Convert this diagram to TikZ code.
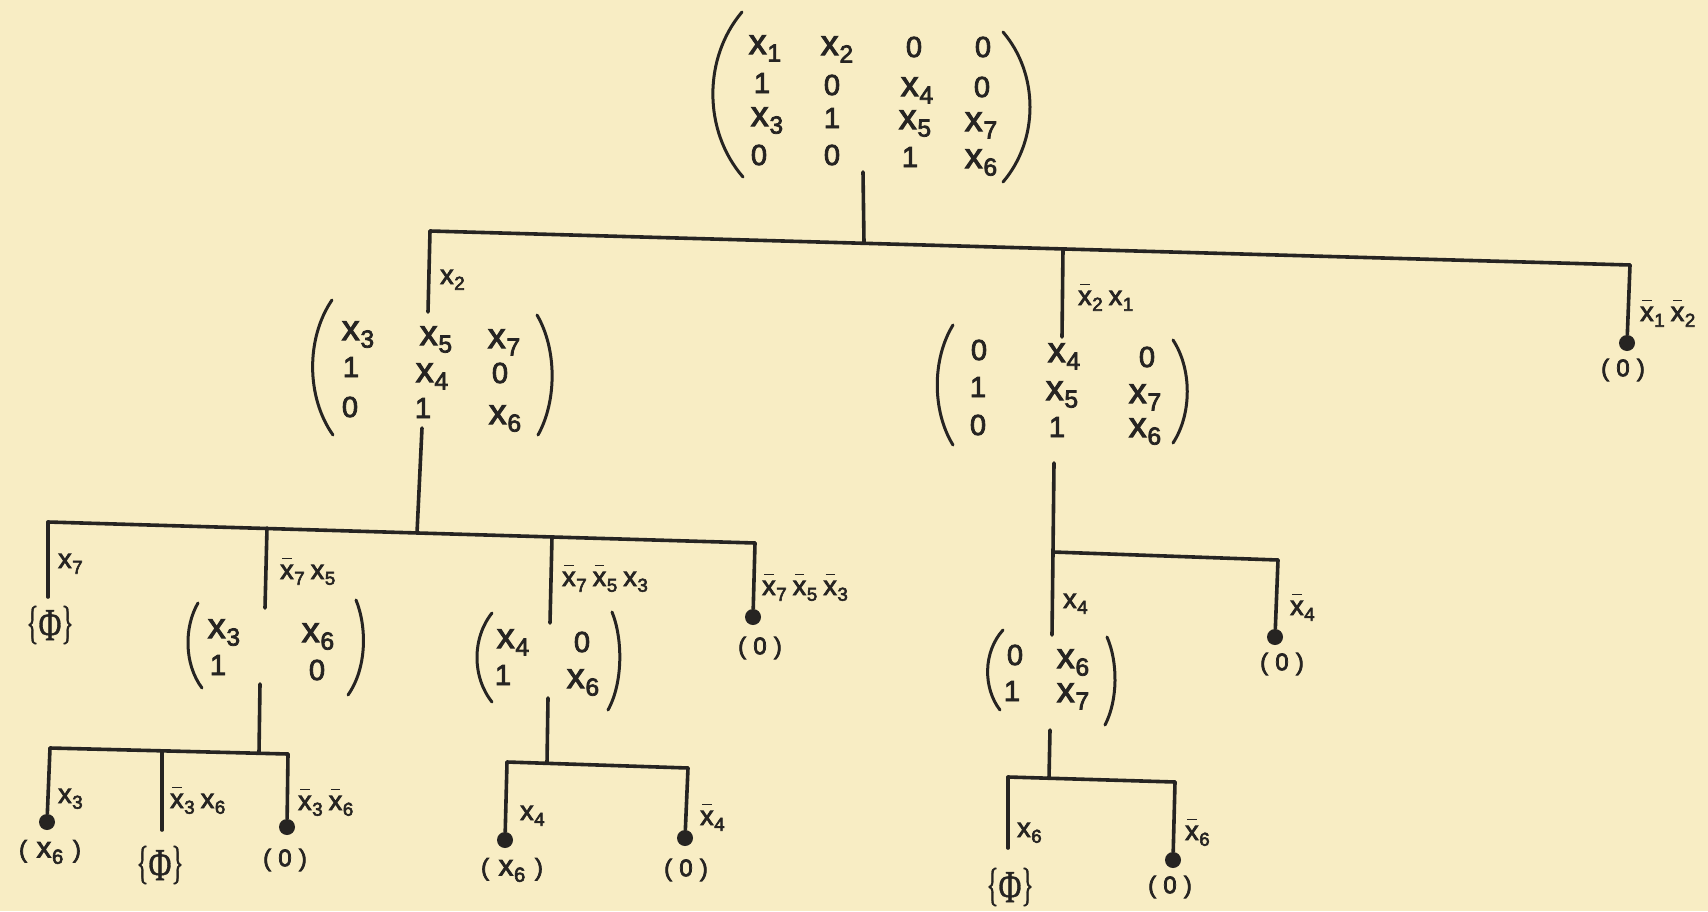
\documentclass[tikz,border=0pt]{standalone}
\usepackage{fontspec}
\setmainfont{Liberation Sans}
\newfontfamily\letterfont[FakeBold=3]{Liberation Sans}
\newfontfamily\phifont[FakeBold=1]{Liberation Serif}
\usepackage{graphicx}
\definecolor{paper}{RGB}{248,237,196}
\definecolor{ink}{RGB}{38,36,34}

% lettering sizes
\newcommand{\matfont}{\letterfont\fontsize{29}{32}\selectfont}
\newcommand{\labfont}{\letterfont\fontsize{22}{26}\selectfont}
\newcommand{\leaffont}{\letterfont\fontsize{24}{28}\selectfont}
% variable x_i and its complement
\newcommand{\xx}[1]{\scalebox{1.22}{x}\kern0.03em\raisebox{-0.26em}{\scalebox{0.85}{#1}}}
\newcommand{\xbar}[1]{\rlap{\kern0.1em\rule[0.9em]{0.42em}{0.07em}}\xx{#1}}
% leaf values
\newcommand{\leafzero}{(\kern0.3em0\kern0.3em)}
\newcommand{\leafx}{(\kern0.4em\xx{6}\kern0.4em)}
\newcommand{\phiset}{{\phifont\fontsize{46}{46}\selectfont\raisebox{0.05em}{\scalebox{0.55}[1]{\{}}\scalebox{0.68}[1]{Φ}\raisebox{0.05em}{\scalebox{0.55}[1]{\}}}}}

\begin{document}
\begin{tikzpicture}[x=1pt,y=-1pt,
  wire/.style={draw=ink,line width=3.6pt,line cap=round,line join=round},
  brk/.style={draw=ink,line width=3pt,line cap=round},
  ent/.style={anchor=base,inner sep=0pt,text=ink,font=\matfont},
  lab/.style={anchor=base west,inner sep=0pt,text=ink,font=\labfont},
  leaf/.style={anchor=center,inner sep=0pt,text=ink,font=\leaffont},
  phileaf/.style={anchor=center,inner sep=0pt,text=ink},
  endpt/.style={circle,fill=ink,inner sep=0pt,minimum size=16pt}]

\fill[paper] (0,0) rectangle (1708,911);
\useasboundingbox (0,0) rectangle (1708,911);

% ---------- root matrix ----------
\node[ent] (r11) at (765,54) {\xx{1}};
\node[ent] (r12) at (837,55) {\xx{2}};
\node[ent] (r13) at (914,57) {0};
\node[ent] (r14) at (983,57) {0};
\node[ent] (r21) at (762,93) {1};
\node[ent] (r22) at (832,95) {0};
\node[ent] (r23) at (917,96) {\xx{4}};
\node[ent] (r24) at (982,97) {0};
\node[ent] (r31) at (767,126) {\xx{3}};
\node[ent] (r32) at (832,128) {1};
\node[ent] (r33) at (915,129) {\xx{5}};
\node[ent] (r34) at (981,131) {\xx{7}};
\node[ent] (r41) at (759,165) {0};
\node[ent] (r42) at (832,165) {0};
\node[ent] (r43) at (910,167) {1};
\node[ent] (r44) at (981,168) {\xx{6}};
\draw[brk] (742,12) .. controls (703,58) and (703,131) .. (743,177);
\draw[brk] (1003,32) .. controls (1039,74) and (1039,140) .. (1003,182);

% ---------- first split ----------
\coordinate (rs) at (863,172);
\coordinate (j0) at (864,243);
\coordinate (b0l) at (430,231);
\coordinate (b0m) at (1063,249);
\coordinate (b0r) at (1630,265);
\coordinate (m1t) at (428,312);
\coordinate (m4t) at (1062,337);
\node[endpt] (d1) at (1627,343) {};
\draw[wire] (rs) -- (j0);
\draw[wire] (b0l) -- (b0r);
\draw[wire] (b0l) -- (m1t);
\draw[wire] (b0m) -- (m4t);
\draw[wire] (b0r) -- (d1);
\node[lab] (l-x2) at (440,284) {\xx{2}};
\node[lab] (l-nx2x1) at (1078,305) {\xbar{2} \xx{1}};
\node[lab] (l-nx1nx2) at (1640,321) {\xbar{1} \xbar{2}};
\node[leaf] (v1) at (1623,370) {\leafzero};

% ---------- left matrix ----------
\node[ent] (a11) at (358,340) {\xx{3}};
\node[ent] (a12) at (436,345) {\xx{5}};
\node[ent] (a13) at (504,348) {\xx{7}};
\node[ent] (a21) at (351,377) {1};
\node[ent] (a22) at (432,382) {\xx{4}};
\node[ent] (a23) at (500,383) {0};
\node[ent] (a31) at (350,417) {0};
\node[ent] (a32) at (423,418) {1};
\node[ent] (a33) at (505,424) {\xx{6}};
\draw[brk] (332,300) .. controls (306,338) and (306,397) .. (333,435);
\draw[brk] (537,315) .. controls (557,349) and (557,401) .. (538,435);

% ---------- right matrix ----------
\node[ent] (c11) at (979,360) {0};
\node[ent] (c12) at (1064,362) {\xx{4}};
\node[ent] (c13) at (1147,367) {0};
\node[ent] (c21) at (978,397) {1};
\node[ent] (c22) at (1062,400) {\xx{5}};
\node[ent] (c23) at (1145,403) {\xx{7}};
\node[ent] (c31) at (978,435) {0};
\node[ent] (c32) at (1057,437) {1};
\node[ent] (c33) at (1145,437) {\xx{6}};
\draw[brk] (953,325) .. controls (932,359) and (932,411) .. (953,445);
\draw[brk] (1173,340) .. controls (1192,369) and (1192,414) .. (1173,443);

% ---------- split under the left matrix ----------
\coordinate (m1b) at (422,428);
\coordinate (b1a) at (48,522);
\coordinate (b1b) at (267,528);
\coordinate (j1) at (417,533);
\coordinate (b1c) at (552,537);
\coordinate (b1d) at (755,543);
\coordinate (e1a) at (48,597);
\coordinate (m2t) at (265,608);
\coordinate (m3t) at (550,623);
\node[endpt] (d2) at (753,617) {};
\draw[wire] (m1b) -- (j1);
\draw[wire] (b1a) -- (b1d);
\draw[wire] (b1a) -- (e1a);
\draw[wire] (b1b) -- (m2t);
\draw[wire] (b1c) -- (m3t);
\draw[wire] (b1d) -- (d2);
\node[lab] (l-x7) at (58,568) {\xx{7}};
\node[lab] (l-nx7x5) at (280,579) {\xbar{7} \xx{5}};
\node[lab] (l-nx7nx5x3) at (562,586) {\xbar{7} \xbar{5} \xx{3}};
\node[lab] (l-nx7nx5nx3) at (762,595) {\xbar{7} \xbar{5} \xbar{3}};
\node[phileaf] (v2) at (50,625) {\phiset};
\node[leaf] (v3) at (760,648) {\leafzero};

% ---------- 2x2 matrices ----------
\node[ent] (p11) at (224,638) {\xx{3}};
\node[ent] (p12) at (318,642) {\xx{6}};
\node[ent] (p21) at (218,675) {1};
\node[ent] (p22) at (317,680) {0};
\draw[brk] (198,603) .. controls (184,627) and (184,664) .. (202,688);
\draw[brk] (356,600) .. controls (367,627) and (367,668) .. (348,695);

\node[ent] (q11) at (513,648) {\xx{4}};
\node[ent] (q12) at (582,652) {0};
\node[ent] (q21) at (503,685) {1};
\node[ent] (q22) at (583,688) {\xx{6}};
\draw[brk] (492,613) .. controls (472,638) and (472,677) .. (492,702);
\draw[brk] (612,612) .. controls (623,639) and (623,683) .. (608,710);

\node[ent] (s11) at (1015,665) {0};
\node[ent] (s12) at (1073,668) {\xx{6}};
\node[ent] (s21) at (1012,701) {1};
\node[ent] (s22) at (1073,702) {\xx{7}};
\draw[brk] (1003,630) .. controls (983,652) and (983,688) .. (1000,710);
\draw[brk] (1107,637) .. controls (1118,662) and (1118,700) .. (1105,725);

% ---------- split under the right matrix ----------
\coordinate (m4b) at (1054,463);
\coordinate (j4) at (1053,552);
\coordinate (b4r) at (1278,560);
\coordinate (m5t) at (1052,635);
\node[endpt] (d7) at (1275,637) {};
\draw[wire] (m4b) -- (j4) -- (m5t);
\draw[wire] (j4) -- (b4r);
\draw[wire] (b4r) -- (d7);
\node[lab] (l-x4r) at (1063,608) {\xx{4}};
\node[lab] (l-nx4r) at (1290,615) {\xbar{4}};
\node[leaf] (v7) at (1282,664) {\leafzero};

% ---------- leaves of the first 2x2 ----------
\coordinate (m2b) at (260,684);
\coordinate (b2a) at (50,748);
\coordinate (b2b) at (162,751);
\coordinate (j2) at (259,753);
\coordinate (b2c) at (288,754);
\coordinate (e2b) at (162,830);
\node[endpt] (d3) at (47,822) {};
\node[endpt] (d4) at (287,827) {};
\draw[wire] (m2b) -- (j2);
\draw[wire] (b2a) -- (b2c);
\draw[wire] (b2a) -- (d3);
\draw[wire] (b2b) -- (e2b);
\draw[wire] (b2c) -- (d4);
\node[lab] (l-x3) at (58,803) {\xx{3}};
\node[lab] (l-nx3x6) at (170,808) {\xbar{3} \xx{6}};
\node[lab] (l-nx3nx6) at (298,810) {\xbar{3} \xbar{6}};
\node[leaf] (v4) at (50,852) {\leafx};
\node[phileaf] (v5) at (160,865) {\phiset};
\node[leaf] (v6) at (285,860) {\leafzero};

% ---------- leaves of the second 2x2 ----------
\coordinate (m3b) at (548,698);
\coordinate (b3a) at (507,762);
\coordinate (j3) at (547,763);
\coordinate (b3b) at (688,768);
\node[endpt] (d5) at (505,840) {};
\node[endpt] (d6) at (685,838) {};
\draw[wire] (m3b) -- (j3);
\draw[wire] (b3a) -- (b3b);
\draw[wire] (b3a) -- (d5);
\draw[wire] (b3b) -- (d6);
\node[lab] (l-x4) at (520,820) {\xx{4}};
\node[lab] (l-nx4) at (700,825) {\xbar{4}};
\node[leaf] (v8) at (512,870) {\leafx};
\node[leaf] (v9) at (686,870) {\leafzero};

% ---------- leaves of the third 2x2 ----------
\coordinate (m5b) at (1050,730);
\coordinate (b5a) at (1008,777);
\coordinate (j5) at (1049,778);
\coordinate (b5b) at (1175,782);
\coordinate (e5a) at (1008,848);
\node[endpt] (d8) at (1173,860) {};
\draw[wire] (m5b) -- (j5);
\draw[wire] (b5a) -- (b5b);
\draw[wire] (b5a) -- (e5a);
\draw[wire] (b5b) -- (d8);
\node[lab] (l-x6) at (1017,837) {\xx{6}};
\node[lab] (l-nx6) at (1185,840) {\xbar{6}};
\node[phileaf] (v10) at (1010,887) {\phiset};
\node[leaf] (v11) at (1170,887) {\leafzero};
\end{tikzpicture}
\end{document}
